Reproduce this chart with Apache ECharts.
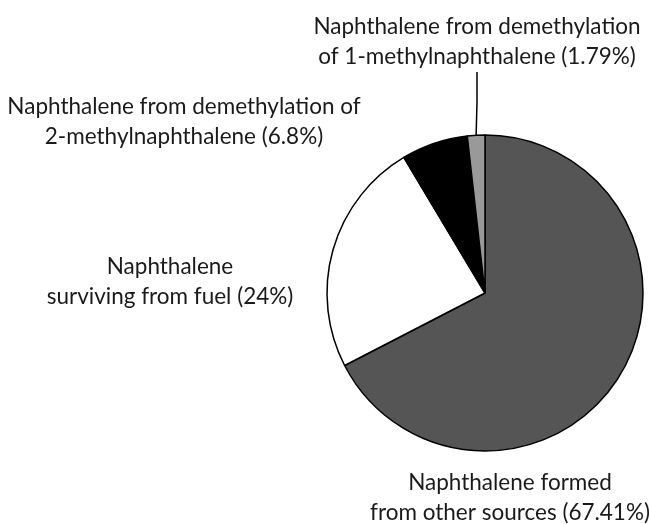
<!DOCTYPE html>
<html>
<head>
<meta charset="utf-8">
<script src="https://cdn.jsdelivr.net/npm/echarts@6/dist/echarts.min.js"></script>
<style>
  html, body { margin: 0; padding: 0; background: #fff; }
  #chart { width: 650px; height: 524px; }
</style>
</head>
<body>
<div id="chart"></div>
<script>
// Slice names and shares (%), clockwise from 12 o'clock
const sliceNames = [
  'Naphthalene formed\nfrom other sources',
  'Naphthalene\nsurviving from fuel',
  'Naphthalene from demethylation of\n2-methylnaphthalene',
  'Naphthalene from demethylation\nof 1-methylnaphthalene'
];
const sliceValues = [67.41, 24, 6.8, 1.79];
const sliceLabels = ['67.41%', '24%', '6.8%', '1.79%'];

const sliceColors = ['#555555', '#ffffff', '#000000', '#999999'];
// where each label block sits (centre of the text block)
const labelSpots = [
  { x: 510, y: 498 },
  { x: 170, y: 282 },
  { x: 184, y: 122 },
  { x: 477, y: 42 }
];

const chart = echarts.init(document.getElementById('chart'));

const seriesData = sliceValues.map((v, i) => ({
  name: sliceNames[i],
  value: v,
  itemStyle: { color: sliceColors[i] },
  labelLine: { show: i === 3 }
}));

chart.setOption({
  animation: false,
  series: [{
    type: 'pie',
    center: [485, 293],
    radius: 158,
    startAngle: 90,
    clockwise: true,
    avoidLabelOverlap: false,
    itemStyle: { borderColor: '#000', borderWidth: 1.5 },
    emphasis: { disabled: true },
    label: {
      show: true,
      position: 'outside',
      fontFamily: 'Lato',
      fontSize: 22.5,
      lineHeight: 30,
      color: '#1a1a1a',
      align: 'center',
      formatter: (p) => p.name + ' (' + sliceLabels[p.dataIndex] + ')'
    },
    labelLine: {
      lineStyle: { color: '#000', width: 1.5 }
    },
    labelLayout: (params) => {
      const spot = labelSpots[params.dataIndex];
      return { x: spot.x, y: spot.y, align: 'center', verticalAlign: 'middle' };
    },
    data: seriesData
  }]
});
</script>
</body>
</html>
